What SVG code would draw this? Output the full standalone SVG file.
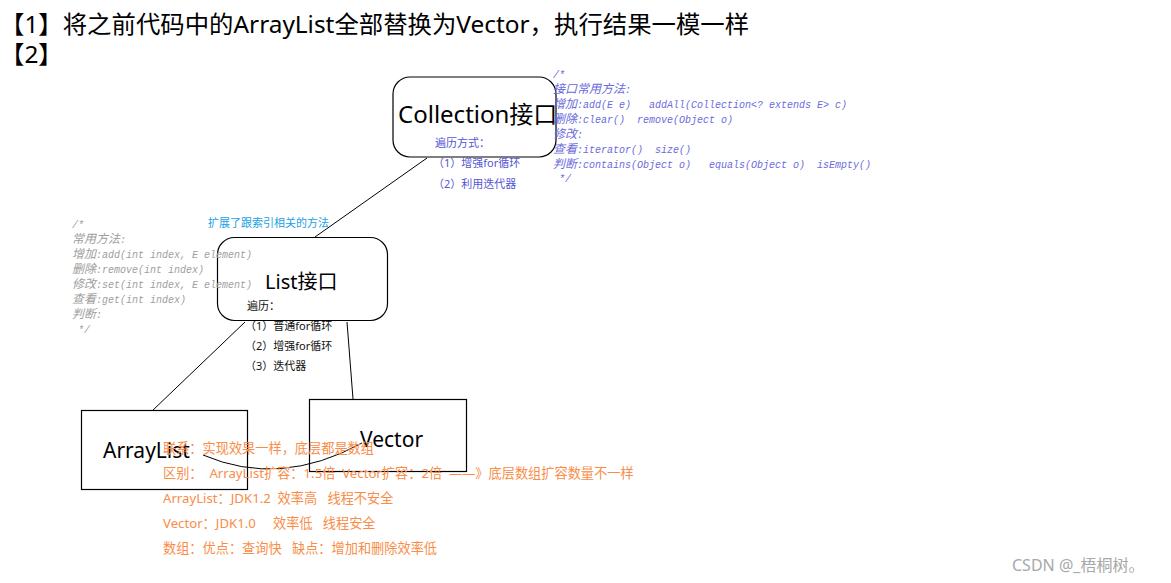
<svg xmlns="http://www.w3.org/2000/svg" width="1171" height="583" viewBox="0 0 1171 583">
<style>
text{white-space:pre}
.cn{font-family:"Noto Sans","Noto Sans CJK SC",sans-serif}
.box{fill:#fff;stroke:#000;stroke-width:1.2}
.ln{fill:none;stroke:#000;stroke-width:1}
.cmt{font-family:"Liberation Mono","Noto Sans CJK SC",monospace;font-style:italic;font-size:10px}
.cmt .c{font-size:12px}
.blue{fill:#5656d4;font-size:11px}
.org{fill:#f98d48;font-size:13.2px}
</style>
<rect width="1171" height="583" fill="#fff"/>
<g id="title" class="cn" font-size="24.4" fill="#000">
<text x="0" y="33">【1】将之前代码中的ArrayList全部替换为Vector，执行结果一模一样</text>
<text x="0" y="63">【2】</text>
</g>
<g id="connectors">
<line class="ln" x1="427" y1="158" x2="315" y2="237"/>
<line class="ln" x1="245" y1="322" x2="152" y2="411"/>
<line class="ln" x1="347" y1="322" x2="353" y2="399"/>
</g>
<g id="collection">
<rect class="box" x="393" y="77" width="163" height="80" rx="17"/>
<text class="cn" x="398" y="123" font-size="24">Collection接口</text>
</g>
<g id="list">
<rect class="box" x="217.5" y="237.5" width="170" height="83" rx="17"/>
<text class="cn" x="265" y="289" font-size="20">List接口</text>
</g>
<g id="arraylist">
<rect class="box" x="81.5" y="410.5" width="166" height="79"/>
<text class="cn" x="103" y="458" font-size="21">ArrayList</text>
</g>
<g id="vector">
<rect class="box" x="309.5" y="399.5" width="157" height="72"/>
<text class="cn" x="360" y="447" font-size="21">Vector</text>
</g>
<g id="curve">
<path class="ln" d="M203,455 Q280,488 362,443"/>
</g>
<g id="collection-notes" class="cn blue">
<text x="435" y="147">遍历方式：</text>
<text x="433" y="167">（1）增强for循环</text>
<text x="433" y="188">（2）利用迭代器</text>
</g>
<g id="list-notes" class="cn" font-size="11" fill="#111">
<text x="247" y="310">遍历：</text>
<text x="245" y="330">（1）普通for循环</text>
<text x="245" y="350">（2）增强for循环</text>
<text x="245" y="370">（3）迭代器</text>
</g>
<g id="extend-label">
<text class="cn" x="208" y="227" font-size="11" fill="#1aa0e6">扩展了跟索引相关的方法</text>
</g>
<g id="collection-comment" class="cmt" fill="#6b6bdc">
<text x="553" y="78">/*</text>
<text x="553" y="93"><tspan class="c">接口常用方法</tspan>:</text>
<text x="553" y="108"><tspan class="c">增加</tspan>:add(E e)   addAll(Collection&lt;? extends E&gt; c)</text>
<text x="553" y="123"><tspan class="c">删除</tspan>:clear()  remove(Object o)</text>
<text x="553" y="138"><tspan class="c">修改</tspan>:</text>
<text x="553" y="153"><tspan class="c">查看</tspan>:iterator()  size()</text>
<text x="553" y="168"><tspan class="c">判断</tspan>:contains(Object o)   equals(Object o)  isEmpty()</text>
<text x="553" y="182"> */</text>
</g>
<g id="list-comment" class="cmt" fill="#9e9e9e">
<text x="72" y="228">/*</text>
<text x="72" y="243"><tspan class="c">常用方法</tspan>:</text>
<text x="72" y="258"><tspan class="c">增加</tspan>:add(int index, E element)</text>
<text x="72" y="273"><tspan class="c">删除</tspan>:remove(int index)</text>
<text x="72" y="288"><tspan class="c">修改</tspan>:set(int index, E element)</text>
<text x="72" y="303"><tspan class="c">查看</tspan>:get(int index)</text>
<text x="72" y="318"><tspan class="c">判断</tspan>:</text>
<text x="72" y="333"> */</text>
</g>
<g id="compare-notes" class="cn org">
<text x="163" y="453">联系：实现效果一样，底层都是数组</text>
<text x="163" y="478">区别：  ArrayList扩容：1.5倍  Vector扩容：2倍  ——》底层数组扩容数量不一样</text>
<text x="163" y="503">ArrayList：JDK1.2  效率高   线程不安全</text>
<text x="163" y="528">Vector：JDK1.0     效率低   线程安全</text>
<text x="163" y="553">数组：优点：查询快   缺点：增加和删除效率低</text>
</g>
<g id="watermark">
<text class="cn" x="1012" y="571" font-size="16" fill="#a8a8a8">CSDN @_梧桐树。</text>
</g>
</svg>
